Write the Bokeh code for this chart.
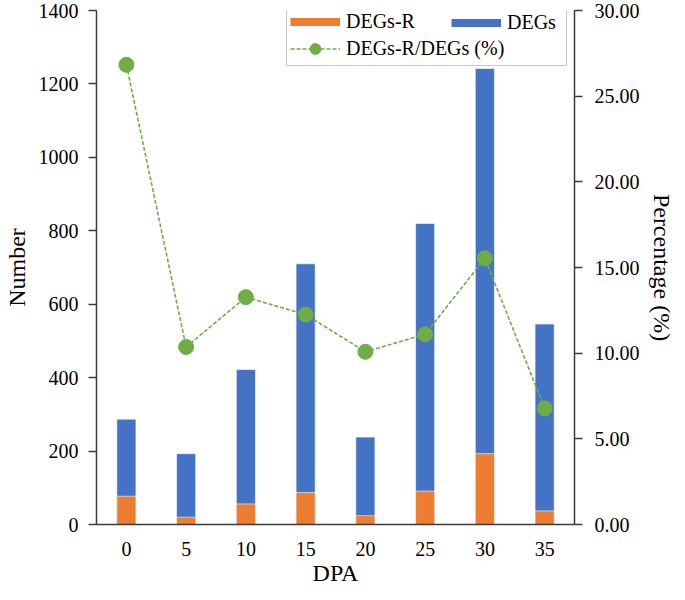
from bokeh.plotting import figure
from bokeh.models import (ColumnDataSource, Range1d, LinearAxis, SingleIntervalTicker,
                          NumeralTickFormatter, Legend, LegendItem)
from bokeh.embed import file_html
from bokeh.resources import INLINE

# ---- data ----
dpa = ["0", "5", "10", "15", "20", "25", "30", "35"]
degs = [287, 193, 422, 710, 238, 820, 1242, 546]
degs_r = [77, 20, 56, 87, 24, 91, 193, 37]
pct = [26.83, 10.36, 13.27, 12.25, 10.08, 11.10, 15.54, 6.78]

ORANGE = "#ED7D31"
BLUE = "#4472C4"
GREEN = "#70AD47"
FONT = "Liberation Serif"
AXIS_COLOR = "#3a3a3a"

FRAME_W, FRAME_H = 478, 514

src = ColumnDataSource(dict(dpa=dpa, degs=degs, degs_r=degs_r, pct=pct))

p = figure(frame_width=FRAME_W, frame_height=FRAME_H, x_range=dpa, y_range=Range1d(0, 1400),
           output_backend="svg", toolbar_location=None,
           min_border_left=93, min_border_right=104, min_border_top=10, min_border_bottom=66)
p.extra_y_ranges = {"pct": Range1d(0, 30)}
p.outline_line_color = None
p.xgrid.grid_line_color = None
p.ygrid.grid_line_color = None

# bars
p.vbar(x="dpa", top="degs", bottom=0, width=0.32, source=src,
       fill_color=BLUE, line_color="white", line_alpha=0.6, line_width=1)
p.vbar(x="dpa", top="degs_r", bottom=0, width=0.32, source=src,
       fill_color=ORANGE, line_color="white", line_alpha=0.6, line_width=1)

# line + markers on secondary axis
ln = p.line(x="dpa", y="pct", source=src, y_range_name="pct",
            line_color=GREEN, line_width=1.6, line_dash="4 2")
sc = p.scatter(x="dpa", y="pct", source=src, y_range_name="pct",
               size=15, fill_color=GREEN, line_color=GREEN)

# legend proxies (hidden) so bar swatches render as thick strips
px_r = p.line(x="dpa", y="degs_r", source=src, line_color=ORANGE, line_width=8, visible=False)
px_d = p.line(x="dpa", y="degs", source=src, line_color=BLUE, line_width=8, visible=False)

# axes styling
def style_axis(ax, size="20px"):
    ax.axis_line_color = AXIS_COLOR
    ax.axis_line_width = 1.5
    ax.major_tick_line_color = AXIS_COLOR
    ax.major_tick_line_width = 1.5
    ax.major_tick_out = 8
    ax.major_tick_in = 0
    ax.minor_tick_line_color = None
    ax.major_label_text_font = FONT
    ax.major_label_text_font_size = size
    ax.major_label_text_color = "black"
    ax.axis_label_text_font = FONT
    ax.axis_label_text_font_size = "24px"
    ax.axis_label_text_font_style = "normal"
    ax.axis_label_text_color = "black"

yl = p.yaxis[0]
yl.ticker = SingleIntervalTicker(interval=200)
yl.axis_label = "Number"
style_axis(yl)
yl.major_label_standoff = 10
yl.axis_label_standoff = 6

xa = p.xaxis[0]
xa.axis_label = "DPA"
style_axis(xa)
xa.major_tick_line_color = None
xa.major_tick_out = 0
xa.major_label_standoff = 17
xa.axis_label_standoff = 1

yr = LinearAxis(y_range_name="pct", ticker=SingleIntervalTicker(interval=5),
                formatter=NumeralTickFormatter(format="0.00"), axis_label="Percentage (%)")
style_axis(yr)
yr.major_label_standoff = 12
yr.axis_label_standoff = 6
p.add_layout(yr, "right")

# legend: box with DEGs-R and line item, plus overlaid DEGs item in first row
LEG_H = 60
LEG_X = 190
LEG_Y = FRAME_H - LEG_H + 4
common = dict(orientation="vertical", glyph_width=50, glyph_height=27, spacing=0,
              padding=3, label_standoff=6, margin=0,
              label_text_font=FONT, label_text_font_size="20px", label_text_color="black",
              inactive_fill_alpha=0)
leg1 = Legend(items=[LegendItem(label="DEGs-R", renderers=[px_r]),
                     LegendItem(label="DEGs-R/DEGs (%)", renderers=[ln, sc])],
              location=(LEG_X, LEG_Y), label_width=217,
              border_line_color="#8c8c8c", border_line_width=1,
              background_fill_color="white", background_fill_alpha=1, **common)
leg2 = Legend(items=[LegendItem(label="DEGs", renderers=[px_d])],
              location=(LEG_X + 162, LEG_Y + 27),
              border_line_alpha=0, background_fill_alpha=0, **common)
p.add_layout(leg1, "center")
p.add_layout(leg2, "center")

open("out.html", "w").write(file_html(p, INLINE))
